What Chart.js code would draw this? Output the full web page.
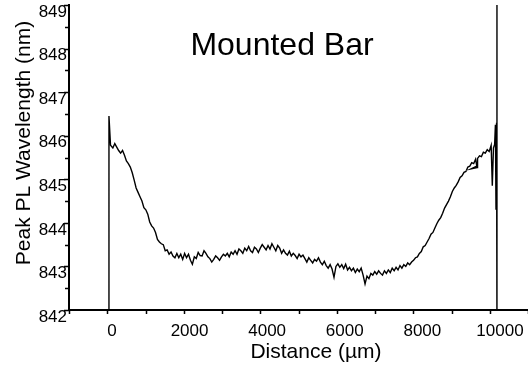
<!DOCTYPE html>
<html>
<head>
<meta charset="utf-8">
<script src="https://cdn.jsdelivr.net/npm/chart.js@4.4.1/dist/chart.umd.min.js"></script>
<style>
  html, body { margin: 0; padding: 0; background: #fff; }
</style>
</head>
<body>
<canvas id="profileCanvas" width="528" height="365"></canvas>
<script>
// values (µm, nm)
const distance = [
  0, 0, 40, 100, 150, 200, 250, 300, 350, 400,
  450, 500, 550, 600, 650, 700, 750, 800, 850, 900,
  950, 1000, 1050, 1100, 1150, 1200, 1250, 1300, 1350, 1400,
  1450, 1500, 1550, 1600, 1650, 1700, 1750, 1800, 1850, 1900,
  1950, 2000, 2050, 2100, 2150, 2200, 2250, 2300, 2350, 2400,
  2450, 2500, 2550, 2600, 2650, 2700, 2750, 2800, 2850, 2900,
  2950, 3000, 3050, 3100, 3150, 3200, 3250, 3300, 3350, 3400,
  3450, 3500, 3550, 3600, 3650, 3700, 3750, 3800, 3850, 3900,
  3950, 4000, 4050, 4100, 4150, 4200, 4250, 4300, 4350, 4400,
  4450, 4500, 4550, 4600, 4650, 4700, 4750, 4800, 4850, 4900,
  4950, 5000, 5050, 5100, 5150, 5200, 5250, 5300, 5350, 5400,
  5450, 5500, 5550, 5600, 5650, 5700, 5750, 5800, 5850, 5900,
  5950, 6000, 6050, 6100, 6150, 6200, 6250, 6300, 6350, 6400,
  6450, 6500, 6550, 6600, 6650, 6700, 6750, 6800, 6850, 6900,
  6950, 7000, 7050, 7100, 7150, 7200, 7250, 7300, 7350, 7400,
  7450, 7500, 7550, 7600, 7650, 7700, 7750, 7800, 7850, 7900,
  7950, 8000, 8050, 8100, 8150, 8200, 8250, 8300, 8350, 8400,
  8450, 8500, 8550, 8600, 8650, 8700, 8750, 8800, 8850, 8900,
  8950, 9000, 9050, 9100, 9150, 9200, 9250, 9300, 9350, 9400,
  9450, 9480, 9340, 9490, 9500, 9550, 9600, 9650, 9700, 9750, 9800, 9850,
  9880, 9910, 9940, 9960, 9975, 9990, 10000, 10000
];
const wavelength = [
  841.5, 846.45, 845.78, 845.72, 845.82, 845.74, 845.66, 845.6, 845.66, 845.55,
  845.42, 845.36, 845.28, 845.15, 844.98, 844.8, 844.7, 844.6, 844.5, 844.35,
  844.3, 844.2, 844.02, 843.93, 843.88, 843.78, 843.62, 843.56, 843.52, 843.5,
  843.36, 843.38, 843.28, 843.33, 843.24, 843.2, 843.3, 843.2, 843.28, 843.16,
  843.3, 843.2, 843.28, 843.14, 843.05, 843.22, 843.18, 843.32, 843.25, 843.24,
  843.36, 843.3, 843.22, 843.18, 843.1, 843.16, 843.24, 843.2, 843.14, 843.22,
  843.28, 843.24, 843.3, 843.22, 843.33, 843.28, 843.36, 843.28, 843.4, 843.36,
  843.3, 843.42, 843.36, 843.46, 843.36, 843.32, 843.44, 843.4, 843.32, 843.42,
  843.5, 843.44, 843.38, 843.48, 843.4, 843.52, 843.44, 843.36, 843.48, 843.42,
  843.3, 843.38, 843.3, 843.26, 843.35, 843.24, 843.3, 843.25, 843.18, 843.28,
  843.22, 843.26, 843.18, 843.1, 843.2, 843.14, 843.08, 843.16, 843.12, 843.2,
  843.1, 843.04, 843.12, 843.02, 842.96, 843.04, 842.94, 842.75, 843.0, 843.06,
  842.98, 843.04, 842.95, 843.05, 842.92, 842.98, 842.9, 842.96, 842.86, 842.94,
  842.88, 842.96, 842.8, 842.6, 842.78, 842.72, 842.84, 842.8, 842.88, 842.82,
  842.9, 842.84, 842.8, 842.9, 842.84, 842.92, 842.86, 842.96, 842.9, 842.98,
  842.92, 843.02, 842.96, 843.04, 843.0, 843.08, 843.04, 843.1, 843.14, 843.2,
  843.22, 843.3, 843.34, 843.45, 843.48, 843.56, 843.64, 843.74, 843.78, 843.88,
  843.98, 844.06, 844.12, 844.22, 844.34, 844.42, 844.5, 844.6, 844.72, 844.8,
  844.86, 844.94, 845.04, 845.08, 845.16, 845.18, 845.28, 845.3, 845.38, 845.36,
  845.46, 845.3, 845.24, 845.27, 845.48, 845.54, 845.52, 845.62, 845.6, 845.68, 845.64, 845.78,
  844.85, 845.72, 845.8, 846.25, 844.3, 846.3, 849.5, 841.5
];
const xLabelValues = [0, 2000, 4000, 6000, 8000, 10000];
const yLabelValues = [842, 843, 844, 845, 846, 847, 848, 849];

const FONT = "'Liberation Sans', Arial, sans-serif";
Chart.defaults.font.family = FONT;
Chart.defaults.color = "#000";

const points = distance.map((d, i) => ({ x: d, y: wavelength[i] }));

// tick marks, x tick labels, chart title and axis titles
const decorPlugin = {
  id: "decor",
  afterDraw(chart) {
    const { ctx, chartArea, scales } = chart;
    const xs = scales.x, ys = scales.y;
    ctx.save();
    ctx.strokeStyle = "#000";
    ctx.lineWidth = 1.5;
    ctx.beginPath();
    xs.ticks.forEach((t) => {
      const px = Math.round(xs.getPixelForValue(t.value)) + 0.5;
      const len = t.value % 2000 === 0 ? 7 : 4;
      ctx.moveTo(px, chartArea.bottom);
      ctx.lineTo(px, chartArea.bottom + len);
    });
    ys.ticks.forEach((t) => {
      const py = Math.round(ys.getPixelForValue(t.value)) + 0.5;
      const len = Number.isInteger(t.value) ? 5 : 4;
      ctx.moveTo(chartArea.left, py);
      ctx.lineTo(chartArea.left - len, py);
    });
    ctx.stroke();

    ctx.fillStyle = "#000";
    ctx.textAlign = "center";
    ctx.textBaseline = "middle";
    ctx.font = "17px " + FONT;
    xLabelValues.forEach((v) => {
      ctx.fillText(String(v), xs.getPixelForValue(v) + 3, chartArea.bottom + 21);
    });

    ctx.font = "32px " + FONT;
    ctx.fillText("Mounted Bar", xs.getPixelForValue(4460), ys.getPixelForValue(848.05));

    ctx.font = "21px " + FONT;
    ctx.fillText("Distance (µm)", 316, 352);

    ctx.translate(24, 143);
    ctx.rotate(-Math.PI / 2);
    ctx.fillText("Peak PL Wavelength (nm)", 0, 0);
    ctx.restore();
  },
};

new Chart(document.getElementById("profileCanvas"), {
  type: "scatter",
  data: {
    datasets: [
      {
        data: points,
        showLine: true,
        borderColor: "#000",
        borderWidth: 1.4,
        pointRadius: 0,
        tension: 0,
        clip: 0,
      },
    ],
  },
  options: {
    responsive: false,
    animation: false,
    devicePixelRatio: 1,
    layout: { padding: { top: 5, right: 0, left: 0, bottom: 0 } },
    plugins: { legend: { display: false }, tooltip: { enabled: false } },
    scales: {
      x: {
        type: "linear",
        min: -1030,
        max: 10800,
        grid: { display: false, drawTicks: false },
        border: { display: true, color: "#000", width: 2 },
        ticks: {
          display: false,
          stepSize: 1000,
          autoSkip: false,
          includeBounds: false,
          maxRotation: 0,
        },
        afterFit(s) {
          s.height = 55;
          s.paddingLeft = 0;
          s.paddingRight = 0;
        },
      },
      y: {
        min: 842,
        max: 849,
        grid: { display: false, drawTicks: false },
        border: { display: true, color: "#000", width: 2 },
        ticks: {
          stepSize: 0.5,
          autoSkip: false,
          includeBounds: false,
          padding: 2,
          labelOffset: 7,
          font: { size: 17 },
          callback: (v) => (yLabelValues.includes(v) ? String(v) : ""),
        },
        afterFit(s) {
          s.width = 69;
          s.paddingTop = 0;
          s.paddingBottom = 0;
        },
      },
    },
  },
  plugins: [decorPlugin],
});
</script>
</body>
</html>
